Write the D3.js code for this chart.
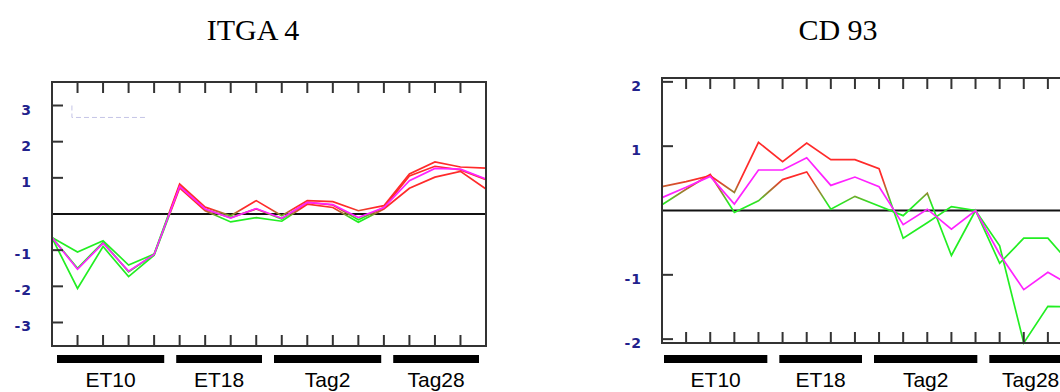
<!DOCTYPE html>
<html>
<head>
<meta charset="utf-8">
<script src="https://cdn.jsdelivr.net/npm/d3@7"></script>
<style>
  html, body { margin: 0; padding: 0; background: #fff; }
  svg { display: block; }
</style>
</head>
<body>
<svg id="chart" width="1060" height="392"></svg>
<script>
// Sample groups along the x axis (number of samples per group)
const groups = ["ET10", "ET18", "Tag2", "Tag28"];
const groupSizes = [5, 4, 5, 4];

// ITGA 4: three replicate profiles and their mean (log ratio)
const itga4Rep1 = [-0.65, -1.05, -0.74, -1.41, -1.11, 0.83, 0.19, -0.05, 0.37, -0.05, 0.37, 0.34, 0.09, 0.23, 1.11, 1.44, 1.30, 1.27];
const itga4Rep2 = [-0.65, -1.50, -0.78, -1.60, -1.12, 0.78, 0.12, -0.10, 0.14, -0.14, 0.32, 0.25, -0.16, 0.18, 1.05, 1.32, 1.22, 0.95];
const itga4Rep3 = [-0.66, -2.06, -0.90, -1.73, -1.14, 0.72, 0.09, -0.22, -0.10, -0.20, 0.27, 0.18, -0.23, 0.14, 0.71, 1.02, 1.18, 0.69];
const itga4Mean = [-0.65, -1.53, -0.81, -1.58, -1.12, 0.76, 0.14, -0.11, 0.15, -0.12, 0.32, 0.26, -0.10, 0.18, 0.92, 1.26, 1.24, 0.97];
const itga4Ticks = [-3, -2, -1, 1, 2, 3];

// CD 93: two replicate profiles and their mean (log ratio)
const cd93Rep1 = [0.37, 0.45, 0.54, 0.28, 1.06, 0.76, 1.05, 0.79, 0.79, 0.65, -0.43, -0.19, 0.06, 0.00, -0.55, -2.06, -1.49, -1.50];
const cd93Rep2 = [0.09, 0.33, 0.56, -0.03, 0.15, 0.48, 0.60, 0.02, 0.22, 0.07, -0.08, 0.27, -0.70, 0.00, -0.82, -0.43, -0.43, -0.86];
const cd93Mean = [0.20, 0.36, 0.53, 0.10, 0.63, 0.63, 0.82, 0.39, 0.52, 0.37, -0.22, 0.02, -0.29, 0.00, -0.68, -1.23, -0.96, -1.18];
const cd93Ticks = [-2, -1, 1, 2];

// Panel layout and styling
const panels = [
  {
    id: "itga4", title: "ITGA 4", titleX: 253,
    left: 52, right: 486, top: 82, bottom: 346,
    yDomain: [-3.65, 3.65], ticks: itga4Ticks,
    reps: [itga4Rep1, itga4Rep2, itga4Rep3], mean: itga4Mean,
    bandLo: -0.12, bandHi: 0.16,
    barStart: 57, barEnd: 479,
    legendStub: true
  },
  {
    id: "cd93", title: "CD 93", titleX: 838,
    left: 662, right: 1072, top: 78, bottom: 343,
    yDomain: [-2.06, 2.06], ticks: cd93Ticks,
    reps: [cd93Rep1, cd93Rep2], mean: cd93Mean,
    bandLo: 0.10, bandHi: 0.50,
    barStart: 664, barEnd: 1072,
    legendStub: false
  }
];

const RED = "#ff2a2a", GREEN = "#22ee22", MID = "#a27a30", MAGENTA = "#ff22ff";
const FRAME = "#333";

const svg = d3.select("#chart");
const defs = svg.append("defs");

panels.forEach(p => {
  const n = p.mean.length;
  const x = d3.scaleLinear().domain([0, n - 1]).range([p.left, p.right]);
  const y = d3.scaleLinear().domain(p.yDomain).range([p.bottom, p.top]);
  const g = svg.append("g");

  // vertical colour ramp for replicate lines: green below, red above
  const grad = defs.append("linearGradient")
    .attr("id", "ramp-" + p.id)
    .attr("gradientUnits", "userSpaceOnUse")
    .attr("x1", 0).attr("x2", 0)
    .attr("y1", y(p.bandLo)).attr("y2", y(p.bandHi));
  grad.append("stop").attr("offset", 0).attr("stop-color", GREEN);
  grad.append("stop").attr("offset", 0.5).attr("stop-color", MID);
  grad.append("stop").attr("offset", 1).attr("stop-color", RED);

  // title
  g.append("text")
    .attr("x", p.titleX).attr("y", 40)
    .attr("text-anchor", "middle")
    .attr("font-family", "'Liberation Serif', 'Times New Roman', serif")
    .attr("font-size", 30)
    .attr("fill", "#000")
    .text(p.title);

  // zero reference line
  g.append("line")
    .attr("x1", p.left).attr("x2", Math.min(p.right, 1060))
    .attr("y1", y(0)).attr("y2", y(0))
    .attr("stroke", "#111").attr("stroke-width", 2);

  // faint dashed key outline
  if (p.legendStub) {
    g.append("path")
      .attr("d", d3.line()([[x(0.78), y(3.0)], [x(0.78), y(2.67)], [x(3.75), y(2.67)]]))
      .attr("fill", "none")
      .attr("stroke", "#c4c4e6")
      .attr("stroke-width", 1)
      .attr("stroke-dasharray", "5,3");
  }

  const line = d3.line().x((d, i) => x(i)).y(d => y(d));

  // replicate profiles
  p.reps.forEach(r => {
    g.append("path")
      .datum(r)
      .attr("d", line)
      .attr("fill", "none")
      .attr("stroke", "url(#ramp-" + p.id + ")")
      .attr("stroke-width", 1.7)
      .attr("stroke-linejoin", "miter");
  });

  // mean profile
  g.append("path")
    .datum(p.mean)
    .attr("d", line)
    .attr("fill", "none")
    .attr("stroke", MAGENTA)
    .attr("stroke-width", 1.7);

  // frame
  g.append("rect")
    .attr("x", p.left).attr("y", p.top)
    .attr("width", p.right - p.left).attr("height", p.bottom - p.top)
    .attr("fill", "none")
    .attr("stroke", FRAME).attr("stroke-width", 2);

  // sample ticks, top and bottom, pointing inward
  const sampleIdx = d3.range(1, n - 1);
  g.selectAll(".tt").data(sampleIdx).enter().append("line")
    .attr("x1", d => x(d)).attr("x2", d => x(d))
    .attr("y1", p.top).attr("y2", p.top + 11)
    .attr("stroke", FRAME).attr("stroke-width", 2);
  g.selectAll(".bt").data(sampleIdx).enter().append("line")
    .attr("x1", d => x(d)).attr("x2", d => x(d))
    .attr("y1", p.bottom - 11).attr("y2", p.bottom)
    .attr("stroke", FRAME).attr("stroke-width", 2);

  // value ticks and labels
  g.selectAll(".yt").data(p.ticks).enter().append("line")
    .attr("x1", p.left).attr("x2", p.left + 11)
    .attr("y1", d => y(d)).attr("y2", d => y(d))
    .attr("stroke", FRAME).attr("stroke-width", 2);
  g.selectAll(".yl").data(p.ticks).enter().append("text")
    .attr("x", p.left - 20).attr("y", d => y(d) + 9)
    .attr("text-anchor", "end")
    .attr("font-family", "'DejaVu Sans', Verdana, sans-serif")
    .attr("font-weight", "bold")
    .attr("font-size", 14)
    .attr("letter-spacing", 1)
    .attr("fill", "#22228c")
    .text(d => d);

  // group bars with labels underneath
  const gap = 12;
  const total = d3.sum(groupSizes);
  const slot = (p.barEnd - p.barStart - gap * (groups.length - 1)) / total;
  const starts = [];
  let acc = p.barStart;
  groupSizes.forEach(s => { starts.push(acc); acc += s * slot + gap; });

  g.selectAll(".gb").data(groups).enter().append("rect")
    .attr("x", (d, i) => starts[i])
    .attr("y", 355)
    .attr("width", (d, i) => groupSizes[i] * slot)
    .attr("height", 8)
    .attr("fill", "#000");
  g.selectAll(".gl").data(groups).enter().append("text")
    .attr("x", (d, i) => starts[i] + groupSizes[i] * slot / 2)
    .attr("y", 387)
    .attr("text-anchor", "middle")
    .attr("font-family", "'Liberation Sans', Arial, sans-serif")
    .attr("font-size", 21)
    .attr("fill", "#000")
    .text(d => d);
});
</script>
</body>
</html>
